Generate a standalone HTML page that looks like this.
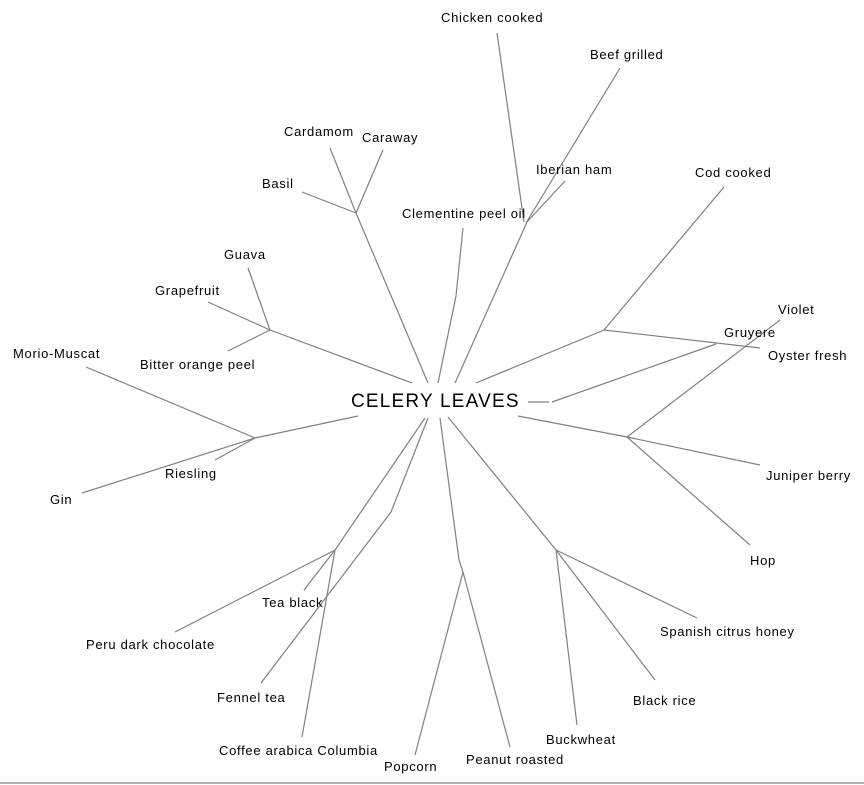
<!DOCTYPE html>
<html><head><style>
body{margin:0;background:#fff;}
svg{display:block;}
text{font-family:"Liberation Sans",Arial,sans-serif;font-size:13px;fill:#000;letter-spacing:0.7px;}
line,polyline{stroke:#808080;stroke-width:1.2;fill:none;}
</style></head><body>
<svg width="864" height="785" viewBox="0 0 864 785">
<line x1="0" y1="783" x2="864" y2="783"/>
<line x1="497" y1="33" x2="524" y2="222"/>
<line x1="620" y1="68" x2="526" y2="223"/>
<line x1="565" y1="181" x2="527" y2="222"/>
<line x1="527" y1="222" x2="455" y2="383"/>
<polyline points="463,228 456,296 438,383"/>
<line x1="302" y1="192" x2="356" y2="213"/>
<line x1="330" y1="148" x2="356" y2="213"/>
<line x1="383" y1="150" x2="356" y2="213"/>
<line x1="356" y1="213" x2="428" y2="383"/>
<line x1="248" y1="268" x2="270" y2="330"/>
<line x1="208" y1="302" x2="270" y2="330"/>
<line x1="228" y1="351" x2="270" y2="330"/>
<line x1="270" y1="330" x2="412" y2="383"/>
<line x1="86" y1="367" x2="255" y2="438"/>
<line x1="82" y1="493" x2="255" y2="438"/>
<line x1="215" y1="460" x2="255" y2="438"/>
<line x1="255" y1="438" x2="358" y2="416"/>
<line x1="724" y1="187" x2="604" y2="330"/>
<line x1="604" y1="330" x2="760" y2="348"/>
<line x1="604" y1="330" x2="476" y2="383"/>
<line x1="528" y1="402" x2="549" y2="402"/>
<line x1="552" y1="402" x2="716" y2="344"/>
<line x1="780" y1="320" x2="627" y2="437"/>
<line x1="627" y1="437" x2="760" y2="465"/>
<line x1="627" y1="437" x2="750" y2="545"/>
<line x1="627" y1="437" x2="518" y2="416"/>
<line x1="556" y1="550" x2="697" y2="618"/>
<line x1="556" y1="550" x2="655" y2="680"/>
<line x1="556" y1="550" x2="577" y2="725"/>
<line x1="556" y1="550" x2="448" y2="417"/>
<line x1="463" y1="572" x2="415" y2="755"/>
<line x1="463" y1="572" x2="510" y2="747"/>
<polyline points="463,572 459,560 440,418"/>
<line x1="391" y1="512" x2="261" y2="683"/>
<line x1="391" y1="512" x2="428" y2="418"/>
<line x1="335" y1="550" x2="304" y2="590"/>
<line x1="335" y1="550" x2="175" y2="632"/>
<line x1="335" y1="550" x2="302" y2="737"/>
<line x1="335" y1="550" x2="425" y2="418"/>
<text x="351" y="407" style="font-size:19px;letter-spacing:1.2px">CELERY LEAVES</text>
<text x="441" y="22">Chicken cooked</text>
<text x="590" y="59">Beef grilled</text>
<text x="536" y="174">Iberian ham</text>
<text x="695" y="177">Cod cooked</text>
<text x="402" y="218">Clementine peel oil</text>
<text x="284" y="136">Cardamom</text>
<text x="362" y="142">Caraway</text>
<text x="262" y="188">Basil</text>
<text x="224" y="259">Guava</text>
<text x="155" y="295">Grapefruit</text>
<text x="140" y="369">Bitter orange peel</text>
<text x="13" y="358">Morio-Muscat</text>
<text x="165" y="478">Riesling</text>
<text x="50" y="504">Gin</text>
<text x="778" y="314">Violet</text>
<text x="724" y="337">Gruyere</text>
<text x="768" y="360">Oyster fresh</text>
<text x="766" y="480">Juniper berry</text>
<text x="750" y="565">Hop</text>
<text x="660" y="636">Spanish citrus honey</text>
<text x="633" y="705">Black rice</text>
<text x="546" y="744">Buckwheat</text>
<text x="466" y="764">Peanut roasted</text>
<text x="384" y="771">Popcorn</text>
<text x="219" y="755">Coffee arabica Columbia</text>
<text x="217" y="702">Fennel tea</text>
<text x="86" y="649">Peru dark chocolate</text>
<text x="262" y="607">Tea black</text>
</svg>
</body></html>
